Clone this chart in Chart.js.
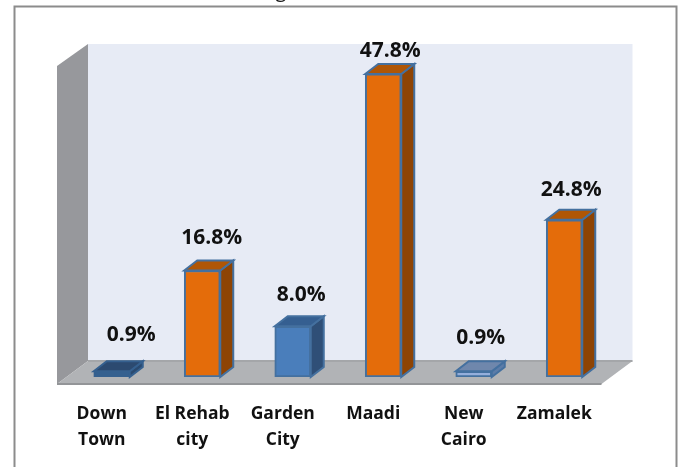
<!DOCTYPE html>
<html>
<head>
<meta charset="utf-8">
<script src="https://cdn.jsdelivr.net/npm/chart.js@4"></script>
<style>
    html, body { margin: 0; padding: 0; background: #fff; overflow: hidden; }
    #wrap { position: relative; width: 681px; height: 467px; }
</style>
</head>
<body>
<div id="wrap"><canvas id="areaChart" width="681" height="467"></canvas></div>
<script>
const categories = [['Down', 'Town'], ['El Rehab', 'city'], ['Garden', 'City'], ['Maadi'], ['New', 'Cairo'], ['Zamalek']];
const shares = [0.9, 16.8, 8.0, 47.8, 0.9, 24.8];
const valueLabels = ['0.9%', '16.8%', '8.0%', '47.8%', '0.9%', '24.8%'];

// front, side, top colours for each bar
const frontColors = ['#35608F', '#E46C0A', '#4A7EBB', '#E46C0A', '#94AEDB', '#E46C0A'];
const sideColors = ['#2A4A70', '#8E4404', '#2F4F77', '#8E4404', '#5C7CA8', '#8E4404'];
const topColors = ['#2C4A70', '#AF5606', '#355F91', '#AF5606', '#6F87AC', '#AF5606'];
const edgeColors = ['#35608F', '#44709F', '#44709F', '#44709F', '#44709F', '#44709F'];

// how far the value labels sit from the bar top
const labelShiftX = [19.5, 9.5, 8.5, 7, 7, 7];
const labelShiftY = [36, 32, 31, 23, 33, 30];

const depthX = 13;
const depthY = 10;

function poly(ctx, pts, fill, stroke) {
    ctx.beginPath();
    pts.forEach((p, i) => i ? ctx.lineTo(p[0], p[1]) : ctx.moveTo(p[0], p[1]));
    ctx.closePath();
    ctx.fillStyle = fill;
    ctx.fill();
    if (stroke) {
        ctx.strokeStyle = stroke;
        ctx.lineWidth = 2;
        ctx.stroke();
    }
}

// back wall, side wall and floor, taken from the plot area
const walls = {
    id: 'walls',
    beforeDatasetsDraw(chart) {
        const { ctx, chartArea: a } = chart;
        const backL = a.left + 21.5, backR = a.right + 23;
        const backT = a.top - 16, backB = a.bottom - 16;
        const frontL = a.left - 9.5, frontR = a.right - 8;
        const frontB = a.bottom + 7;
        ctx.save();
        poly(ctx, [[backL, backT], [backR, backT], [backR, backB], [backL, backB]], '#E7EBF5');
        poly(ctx, [[frontL, backT + 22], [backL, backT], [backL, backB], [frontL, frontB]], '#97989C');
        poly(ctx, [[frontL, frontB], [backL, backB], [backR, backB], [frontR, frontB]], '#B1B3B6');
        ctx.strokeStyle = '#A4A6A9';
        ctx.lineWidth = 2;
        ctx.beginPath();
        ctx.moveTo(backL, backB);
        ctx.lineTo(backR, backB);
        ctx.stroke();
        ctx.strokeStyle = '#939598';
        ctx.beginPath();
        ctx.moveTo(frontL, frontB);
        ctx.lineTo(frontR, frontB);
        ctx.stroke();
        ctx.restore();
    }
};

// side and top faces of each bar, then the value label
const bars3d = {
    id: 'bars3d',
    afterDatasetsDraw(chart) {
        const { ctx } = chart;
        const bars = chart.getDatasetMeta(0).data;
        ctx.save();
        bars.forEach((bar, i) => {
            const l = bar.x - bar.width / 2;
            const r = bar.x + bar.width / 2;
            poly(ctx, [[r, bar.y], [r + depthX, bar.y - depthY], [r + depthX, bar.base - depthY], [r, bar.base]], sideColors[i], edgeColors[i]);
            poly(ctx, [[l, bar.y], [l + depthX, bar.y - depthY], [r + depthX, bar.y - depthY], [r, bar.y]], topColors[i], edgeColors[i]);
            ctx.fillStyle = '#111';
            ctx.font = 'bold 21px "Open Sans"';
            ctx.textAlign = 'center';
            ctx.textBaseline = 'middle';
            ctx.fillText(valueLabels[i], bar.x + labelShiftX[i], bar.y - labelShiftY[i]);
        });
        ctx.restore();
    }
};

// chart frame, it runs off the bottom of the picture, title is cut off above it
const frame = {
    id: 'frame',
    beforeDraw(chart) {
        const { ctx, width, height } = chart;
        ctx.save();
        ctx.strokeStyle = '#8C8C8C';
        ctx.lineWidth = 2;
        ctx.beginPath();
        ctx.moveTo(14.5, height);
        ctx.lineTo(14.5, 6.5);
        ctx.lineTo(width - 4.5, 6.5);
        ctx.lineTo(width - 4.5, height);
        ctx.stroke();
        ctx.fillStyle = '#111';
        ctx.font = '20px "Open Sans"';
        ctx.textAlign = 'center';
        ctx.textBaseline = 'alphabetic';
        ctx.fillText('g', 281, -3);
        ctx.restore();
    }
};

new Chart(document.getElementById('areaChart').getContext('2d'), {
    type: 'bar',
    data: {
        labels: categories,
        datasets: [{
            data: shares,
            backgroundColor: frontColors,
            borderColor: edgeColors,
            borderWidth: 2,
            borderSkipped: false,
            barThickness: 36
        }]
    },
    options: {
        responsive: false,
        animation: false,
        layout: { padding: { left: 66.5, right: 71.5, top: 60, bottom: 0 } },
        plugins: { legend: { display: false }, tooltip: { enabled: false } },
        scales: {
            x: {
                grid: { display: false },
                border: { display: false },
                afterFit(scale) { scale.height = 90; },
                ticks: {
                    color: '#111',
                    font: { family: '"Open Sans"', size: 17.5, weight: 'bold', lineHeight: 1.48 },
                    labelOffset: -10,
                    padding: 16,
                    maxRotation: 0,
                    autoSkip: false
                }
            },
            y: {
                min: 0,
                max: 50,
                display: false
            }
        }
    },
    plugins: [frame, walls, bars3d]
});
</script>
</body>
</html>
